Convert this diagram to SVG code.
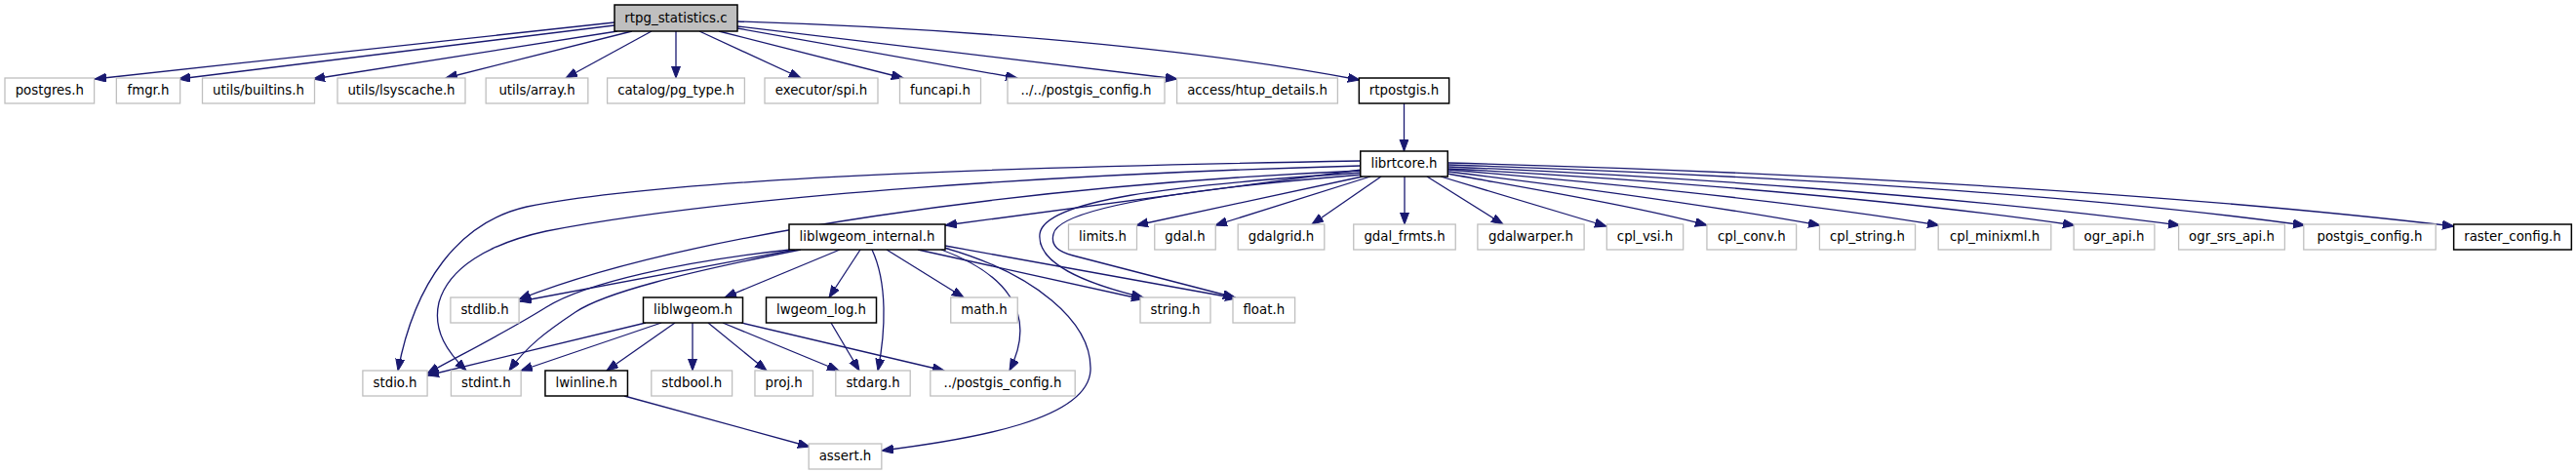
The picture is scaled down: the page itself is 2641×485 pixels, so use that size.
<svg xmlns="http://www.w3.org/2000/svg" width="2641" height="485" viewBox="0 0 2641 485">
<style>
.n rect{fill:#fff;stroke:#bfbfbf;stroke-width:1.3}
.d rect{fill:#fff;stroke:#000;stroke-width:1.5}
.t rect{fill:#bfbfbf;stroke:#000;stroke-width:1.5}
text{font-family:"DejaVu Sans","Liberation Sans",sans-serif;font-size:13.33px;fill:#000;text-anchor:middle}
#edges path{fill:none;stroke:#191970;stroke-width:1.3;marker-end:url(#a)}
</style>
<defs>
<marker id="a" markerWidth="13" markerHeight="10" refX="12" refY="4.5" orient="auto" markerUnits="userSpaceOnUse"><path d="M0,0 L12,4.5 L0,9 z" fill="#191970" stroke="#191970" stroke-width="1"/></marker>
</defs>
<rect width="2641" height="485" fill="#fff"/>
<g id="edges">
<path d="M630,23 L97,81"/>
<path d="M630,26 L183,81"/>
<path d="M633,32 L321,81"/>
<path d="M648,32 L457,80"/>
<path d="M668,32 L580,80"/>
<path d="M693,32 L693,80"/>
<path d="M717,32 L821,80"/>
<path d="M737,32 L926,80"/>
<path d="M756,29 L1043,80"/>
<path d="M756,27 L1207,81"/>
<path d="M756,22 C950,28 1200,45 1394,82"/>
<path d="M1439.5,106 L1439.5,155"/>
<path d="M1395,165 C1100,170 700,180 540,212 C470,228 425,290 408,380"/>
<path d="M1395,170 C1100,178 750,200 560,237 C500,250 460,275 450,310 C443,340 460,362 478,380"/>
<path d="M1396,175 C1050,190 700,240 532,307"/>
<path d="M1396,174 L969,231"/>
<path d="M1396,177 C1200,190 1070,205 1066,240 C1063,270 1110,290 1172,305"/>
<path d="M1397,179 C1200,195 1085,215 1080,240 C1077,252 1085,258 1100,262 L1266,305"/>
<path d="M1397,181 L1165,231"/>
<path d="M1405,181 L1246,231"/>
<path d="M1416,181 L1345,230"/>
<path d="M1440,181 L1440,230"/>
<path d="M1463,181 L1541,230"/>
<path d="M1477,181 L1647,232"/>
<path d="M1484,178 C1560,192 1680,212 1750,231"/>
<path d="M1485,176 C1600,190 1750,210 1866,231"/>
<path d="M1485,174 C1650,188 1850,208 1988,231"/>
<path d="M1485,173 C1680,183 1950,205 2127,231"/>
<path d="M1485,171 C1700,180 2000,200 2235,231"/>
<path d="M1485,169 C1750,178 2100,195 2363,231"/>
<path d="M1485,167 C1800,175 2200,195 2516,232"/>
<path d="M815,256 L533,309"/>
<path d="M810,256 C700,268 600,290 560,315 C520,340 470,365 438,383"/>
<path d="M821,256 C700,280 620,300 590,320 C560,340 540,355 522,380"/>
<path d="M861,256 L743,305"/>
<path d="M882,256 L850,305"/>
<path d="M894,256 C910,290 908,340 900,380"/>
<path d="M909,256 L988,305"/>
<path d="M941,256 L1172,307"/>
<path d="M969,252 L1268,306"/>
<path d="M965,256 C1030,280 1065,320 1035,380"/>
<path d="M968,254 C1060,280 1120,330 1118,380 C1115,430 1000,450 904,462"/>
<path d="M662,331 L438,385"/>
<path d="M678,331 L534,380"/>
<path d="M692,331 L622,380"/>
<path d="M710,331 L710,380"/>
<path d="M726,331 L786,380"/>
<path d="M741,331 L860,380"/>
<path d="M760,331 L968,380"/>
<path d="M852,331 L881,380"/>
<path d="M640,406 L830,458"/>
</g>
<g id="n_rtpg_statistics_c" class="t"><rect x="630" y="5" width="126" height="27"/><text x="693" y="23">rtpg_statistics.c</text></g>
<g id="n_postgres_h" class="n"><rect x="5" y="80" width="91.6" height="26"/><text x="50.8" y="97">postgres.h</text></g>
<g id="n_fmgr_h" class="n"><rect x="119.35" y="80" width="65.3" height="26"/><text x="152" y="97">fmgr.h</text></g>
<g id="n_utils_builtins_h" class="n"><rect x="207.5" y="80" width="115" height="26"/><text x="265" y="97">utils/builtins.h</text></g>
<g id="n_utils_lsyscache_h" class="n"><rect x="346" y="80" width="131" height="26"/><text x="411.5" y="97">utils/lsyscache.h</text></g>
<g id="n_utils_array_h" class="n"><rect x="498.15" y="80" width="104.7" height="26"/><text x="550.5" y="97">utils/array.h</text></g>
<g id="n_catalog_pg_type_h" class="n"><rect x="622.6" y="80" width="140.8" height="26"/><text x="693" y="97">catalog/pg_type.h</text></g>
<g id="n_executor_spi_h" class="n"><rect x="784" y="80" width="116" height="26"/><text x="842" y="97">executor/spi.h</text></g>
<g id="n_funcapi_h" class="n"><rect x="922.5" y="80" width="83" height="26"/><text x="964" y="97">funcapi.h</text></g>
<g id="n_pg_postgis_config_h" class="n"><rect x="1033" y="80" width="161" height="26"/><text x="1113.5" y="97">../../postgis_config.h</text></g>
<g id="n_access_htup_details_h" class="n"><rect x="1206.6" y="80" width="164.8" height="26"/><text x="1289" y="97">access/htup_details.h</text></g>
<g id="n_rtpostgis_h" class="d"><rect x="1393.35" y="80" width="92.3" height="26"/><text x="1439.5" y="97">rtpostgis.h</text></g>
<g id="n_librtcore_h" class="d"><rect x="1394.75" y="155" width="89.5" height="26"/><text x="1439.5" y="172">librtcore.h</text></g>
<g id="n_liblwgeom_internal_h" class="d"><rect x="809" y="230" width="160" height="26"/><text x="889" y="247">liblwgeom_internal.h</text></g>
<g id="n_limits_h" class="n"><rect x="1095.5" y="230" width="70" height="26"/><text x="1130.5" y="247">limits.h</text></g>
<g id="n_gdal_h" class="n"><rect x="1183.75" y="230" width="62.5" height="26"/><text x="1215" y="247">gdal.h</text></g>
<g id="n_gdalgrid_h" class="n"><rect x="1269.2" y="230" width="88.6" height="26"/><text x="1313.5" y="247">gdalgrid.h</text></g>
<g id="n_gdal_frmts_h" class="n"><rect x="1387.75" y="230" width="104.5" height="26"/><text x="1440" y="247">gdal_frmts.h</text></g>
<g id="n_gdalwarper_h" class="n"><rect x="1514.9" y="230" width="109.2" height="26"/><text x="1569.5" y="247">gdalwarper.h</text></g>
<g id="n_cpl_vsi_h" class="n"><rect x="1647.3" y="230" width="78.4" height="26"/><text x="1686.5" y="247">cpl_vsi.h</text></g>
<g id="n_cpl_conv_h" class="n"><rect x="1749.95" y="230" width="91.7" height="26"/><text x="1795.8" y="247">cpl_conv.h</text></g>
<g id="n_cpl_string_h" class="n"><rect x="1865.45" y="230" width="98.1" height="26"/><text x="1914.5" y="247">cpl_string.h</text></g>
<g id="n_cpl_minixml_h" class="n"><rect x="1987.2" y="230" width="115.6" height="26"/><text x="2045" y="247">cpl_minixml.h</text></g>
<g id="n_ogr_api_h" class="n"><rect x="2126.1" y="230" width="82.8" height="26"/><text x="2167.5" y="247">ogr_api.h</text></g>
<g id="n_ogr_srs_api_h" class="n"><rect x="2233.6" y="230" width="108.8" height="26"/><text x="2288" y="247">ogr_srs_api.h</text></g>
<g id="n_postgis_config_h" class="n"><rect x="2361.8" y="230" width="135.4" height="26"/><text x="2429.5" y="247">postgis_config.h</text></g>
<g id="n_raster_config_h" class="d"><rect x="2515.65" y="230" width="120.7" height="26"/><text x="2576" y="247">raster_config.h</text></g>
<g id="n_stdlib_h" class="n"><rect x="461.9" y="305" width="70.2" height="26"/><text x="497" y="322">stdlib.h</text></g>
<g id="n_liblwgeom_h" class="d"><rect x="659.5" y="305" width="102" height="26"/><text x="710.5" y="322">liblwgeom.h</text></g>
<g id="n_lwgeom_log_h" class="d"><rect x="785.5" y="305" width="113" height="26"/><text x="842" y="322">lwgeom_log.h</text></g>
<g id="n_math_h" class="n"><rect x="974.75" y="305" width="68.5" height="26"/><text x="1009" y="322">math.h</text></g>
<g id="n_string_h" class="n"><rect x="1169" y="305" width="72" height="26"/><text x="1205" y="322">string.h</text></g>
<g id="n_float_h" class="n"><rect x="1264" y="305" width="63.6" height="26"/><text x="1295.8" y="322">float.h</text></g>
<g id="n_stdio_h" class="n"><rect x="371.9" y="380" width="66.2" height="26"/><text x="405" y="397">stdio.h</text></g>
<g id="n_stdint_h" class="n"><rect x="462.45" y="380" width="71.7" height="26"/><text x="498.3" y="397">stdint.h</text></g>
<g id="n_lwinline_h" class="d"><rect x="558.95" y="380" width="84.5" height="26"/><text x="601.2" y="397">lwinline.h</text></g>
<g id="n_stdbool_h" class="n"><rect x="667.8" y="380" width="82.8" height="26"/><text x="709.2" y="397">stdbool.h</text></g>
<g id="n_proj_h" class="n"><rect x="773.95" y="380" width="59.5" height="26"/><text x="803.7" y="397">proj.h</text></g>
<g id="n_stdarg_h" class="n"><rect x="856.8" y="380" width="76.4" height="26"/><text x="895" y="397">stdarg.h</text></g>
<g id="n_p_postgis_config_h" class="n"><rect x="953.8" y="380" width="148.4" height="26"/><text x="1028" y="397">../postgis_config.h</text></g>
<g id="n_assert_h" class="n"><rect x="829.15" y="455" width="74.7" height="26"/><text x="866.5" y="472">assert.h</text></g>
</svg>
